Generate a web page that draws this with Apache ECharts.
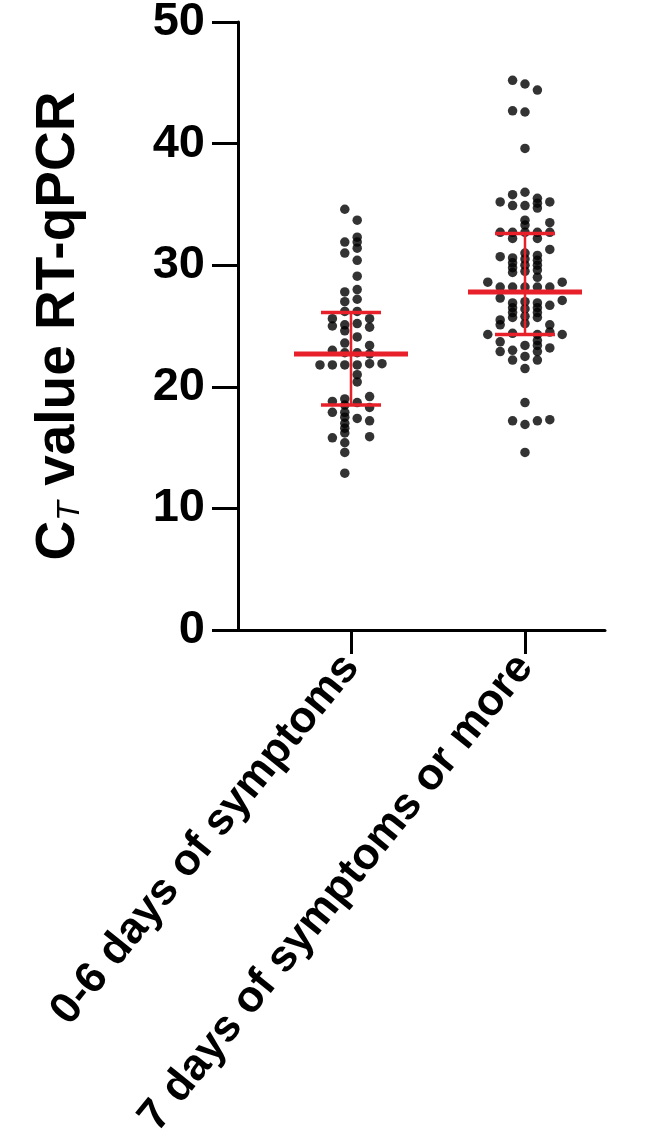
<!DOCTYPE html>
<html><head><meta charset="utf-8">
<script src="https://cdn.jsdelivr.net/npm/echarts@6/dist/echarts.min.js"></script>
<style>html,body{margin:0;padding:0;background:#fff}#chart{width:650px;height:1138px}</style>
</head><body><div id="chart"></div>
<script>
const categories = ['0-6 days of symptoms', '7 days of symptoms or more'];
const catPositions = [1, 2];

// group 1: jitter slot and CT value of each sample
const g1Slots = [-0.5,0.5,0.5,0.5,0.5,-0.5,-0.5,0.5,0.5,-0.5,0.5,-0.5,0.5,-0.5,0.5,-1.5,-1.5,-0.5,-0.5,0.5,1.5,1.5,0.5,-0.5,1.5,-1.5,-0.5,0.5,1.5,-2.5,-1.5,-0.5,0.5,1.5,2.5,0.5,0.5,1.5,-0.5,-1.5,-0.5,0.5,1.5,-1.5,-0.5,-0.5,0.5,1.5,-0.5,-0.5,-0.5,-1.5,1.5,-0.5,-0.5,-0.5];
const g1Values = [34.6,33.7,32.3,31.9,31.4,31.9,31.0,30.4,29.1,27.8,28.0,27.0,27.2,26.2,26.2,25.6,25.0,25.1,24.6,25.2,25.6,24.9,24.1,23.6,23.4,23.0,22.8,22.8,22.7,21.8,21.8,21.8,21.8,21.9,21.9,21.0,20.4,19.2,19.0,18.8,18.5,18.7,18.3,17.9,17.9,17.5,17.4,17.2,17.0,16.6,16.2,15.8,15.9,15.4,14.6,12.9];

// group 2
const g2Slots = [-1,0,1,-1,0,0, 0,-1,-1,-2,0,1,1,1,2,0,0,2, -2,-1,0,1,2,-1,1, 2,-2, -1,-1,-1,-1, 0,0,0,0, 1,1,1,1, 1, -3,3, -2,-1,0,1,2, -2,3,2, -1,-1,-1,-1, 1,1,1,1, 0,0,0,0, -2,-2, 2, -3,-1,1,2,3, -2,-2, -1,-1, 0,0,0, 1,1,1,1, 2, 0, -1,0,1,2, 0];
const g2Values = [45.2,44.9,44.4,42.7,42.6,39.6, 36.0,35.8,34.9,35.2,34.9,35.5,35.1,34.7,35.2,33.7,33.3,33.5, 32.7,32.7,32.7,32.7,32.7,32.2,32.2, 31.3,30.7, 30.6,30.2,29.8,29.4, 31.0,30.5,30.0,29.5, 30.8,30.4,30.0,29.6, 29.0, 28.6,28.6, 28.2,28.2,28.2,28.2,28.2, 27.3,27.1,26.7, 26.9,26.5,26.1,25.7, 26.9,26.5,26.1,25.7, 27.0,26.4,25.8,25.2, 25.5,25.1, 25.1, 24.3,24.4,24.3,24.5,24.3, 23.7,22.9, 23.0,22.2, 23.4,22.5,21.5, 23.8,23.4,22.9,22.2, 23.2, 18.7, 17.2,16.9,17.2,17.3, 14.6];

const means = [22.7, 27.8];
const sdLow = [18.5, 24.3];
const sdHigh = [26.1, 32.6];

const SLOT_W = 0.0713;
const MEAN_HALF = 57;
const SD_HALF = 30;
const RED = '#e8202a';
const FONT = "'Liberation Sans', Arial, Helvetica, sans-serif";

function points(pos, slots, vals) {
  return vals.map((v, i) => [pos + slots[i] * SLOT_W, v]);
}

const chart = echarts.init(document.getElementById('chart'));
chart.setOption({
  animation: false,
  backgroundColor: '#fff',
  grid: { left: 238, right: 45, top: 22, bottom: 508, containLabel: false, outerBoundsMode: 'none' },
  xAxis: {
    type: 'value', min: 0.3506, max: 2.4598,
    axisLine: { show: true, lineStyle: { color: '#000', width: 3 } },
    axisTick: { show: true, customValues: catPositions, length: 24, lineStyle: { color: '#000', width: 3 } },
    axisLabel: {
      customValues: catPositions,
      formatter: v => categories[Math.round(v) - 1],
      rotate: 51, fontSize: 44, fontWeight: 'bold', color: '#000', fontFamily: FONT, margin: 30
    },
    splitLine: { show: false }
  },
  yAxis: {
    type: 'value', min: 0, max: 50, interval: 10,
    name: '{c|C}{t|T}{n| value RT-qPCR}',
    nameLocation: 'middle', nameRotate: 90, nameGap: 152,
    nameTextStyle: {
      rich: {
        c: { fontSize: 55, fontWeight: 'bold', fontFamily: FONT, color: '#000' },
        t: { fontSize: 32, fontStyle: 'italic', fontFamily: FONT, color: '#000', verticalAlign: 'bottom', padding: [20, 0, 0, 0] },
        n: { fontSize: 55, fontWeight: 'bold', fontFamily: FONT, color: '#000' }
      }
    },
    axisLine: { show: true, lineStyle: { color: '#000', width: 3 } },
    axisTick: { show: true, length: 26, lineStyle: { color: '#000', width: 3 } },
    axisLabel: { fontSize: 47, fontWeight: 'bold', color: '#000', fontFamily: FONT, margin: 33 },
    splitLine: { show: false }
  },
  series: [
    { type: 'scatter', data: points(catPositions[0], g1Slots, g1Values), symbolSize: 9.5, itemStyle: { color: '#000' } },
    { type: 'scatter', data: points(catPositions[1], g2Slots, g2Values), symbolSize: 9.5, itemStyle: { color: '#000' } },
    {
      type: 'custom', z: 10,
      encode: { x: 0, y: [1, 2, 3] },
      data: catPositions.map((p, i) => [p, means[i], sdLow[i], sdHigh[i]]),
      renderItem: (params, api) => {
        const x = api.value(0);
        const m = api.coord([x, api.value(1)]);
        const lo = api.coord([x, api.value(2)]);
        const hi = api.coord([x, api.value(3)]);
        return {
          type: 'group', children: [
            { type: 'line', shape: { x1: lo[0], y1: lo[1], x2: hi[0], y2: hi[1] }, style: { stroke: RED, lineWidth: 2.5 } },
            { type: 'line', shape: { x1: lo[0] - SD_HALF, y1: lo[1], x2: lo[0] + SD_HALF, y2: lo[1] }, style: { stroke: RED, lineWidth: 3.5 } },
            { type: 'line', shape: { x1: hi[0] - SD_HALF, y1: hi[1], x2: hi[0] + SD_HALF, y2: hi[1] }, style: { stroke: RED, lineWidth: 3.5 } },
            { type: 'line', shape: { x1: m[0] - MEAN_HALF, y1: m[1], x2: m[0] + MEAN_HALF, y2: m[1] }, style: { stroke: RED, lineWidth: 5 } }
          ]
        };
      }
    }
  ]
});
</script></body></html>
